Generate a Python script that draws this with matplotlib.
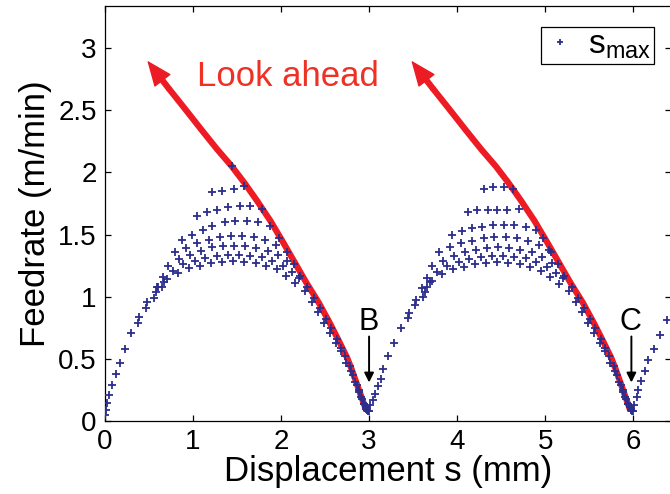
import matplotlib
matplotlib.use('Agg')
import matplotlib.pyplot as plt

# feedrate samples (s in mm, v in m/min)
# first segment 0..3 mm
rise1_s = [0.00, 0.01, 0.02, 0.045, 0.08, 0.125, 0.17, 0.23, 0.30, 0.38, 0.39, 0.47, 0.48, 0.56, 0.58, 0.59, 0.65, 0.67]
rise1_v = [0.05, 0.09, 0.145, 0.21, 0.29, 0.38, 0.47, 0.58, 0.71, 0.79, 0.84, 0.91, 0.96, 0.99, 1.04, 1.08, 1.08, 1.12]
top1_s = [1.44]
top1_v = [2.05]
r1_s = [1.22, 1.33, 1.46, 1.58]
r1_v = [1.84, 1.85, 1.87, 1.89]
r2_s = [1.04, 1.16, 1.27, 1.40, 1.53, 1.65, 1.78]
r2_v = [1.65, 1.68, 1.70, 1.72, 1.73, 1.73, 1.71]
r3_s = [0.87, 0.99, 1.11, 1.22, 1.36, 1.48, 1.61, 1.74, 1.87]
r3_v = [1.46, 1.50, 1.54, 1.57, 1.60, 1.61, 1.61, 1.60, 1.57]
r4_s = [0.80, 0.92, 1.05, 1.18, 1.31, 1.43, 1.56, 1.69, 1.82, 1.94]
r4_v = [1.36, 1.39, 1.43, 1.46, 1.48, 1.49, 1.49, 1.48, 1.46, 1.42]
r5_s = [0.72, 0.84, 0.96, 1.09, 1.21, 1.34, 1.47, 1.59, 1.72, 1.85, 1.97, 2.07]
r5_v = [1.25, 1.30, 1.34, 1.37, 1.40, 1.41, 1.41, 1.41, 1.39, 1.37, 1.34, 1.29]
r6_s = [0.66, 0.77, 0.89, 1.02, 1.14, 1.27, 1.40, 1.52, 1.65, 1.78, 1.90, 2.02, 2.12]
r6_v = [1.16, 1.21, 1.26, 1.29, 1.31, 1.33, 1.34, 1.34, 1.33, 1.32, 1.29, 1.25, 1.20]
r7_s = [0.60, 0.71, 0.83, 0.95, 1.08, 1.20, 1.33, 1.45, 1.58, 1.71, 1.83, 1.95, 2.06, 2.16]
r7_v = [1.08, 1.14, 1.19, 1.23, 1.25, 1.27, 1.28, 1.29, 1.28, 1.27, 1.25, 1.22, 1.17, 1.11]
desc1_s = [1.98, 2.07, 2.15, 2.22, 2.30, 2.37, 2.44, 2.51, 2.57, 2.63, 2.68, 2.73, 2.78, 2.82, 2.86, 2.89, 2.92, 2.94, 2.96, 2.98, 2.99, 3.00]
desc1_v = [1.47, 1.36, 1.26, 1.17, 1.08, 0.99, 0.91, 0.82, 0.75, 0.66, 0.59, 0.52, 0.44, 0.37, 0.29, 0.23, 0.18, 0.14, 0.11, 0.09, 0.08, 0.08]
desc1b_s = [2.20, 2.27, 2.35, 2.42, 2.49, 2.56, 2.62, 2.68, 2.74, 2.79, 2.84, 2.88, 2.91, 2.94, 2.96, 2.97]
desc1b_v = [1.15, 1.05, 0.96, 0.88, 0.79, 0.71, 0.63, 0.56, 0.47, 0.40, 0.31, 0.25, 0.19, 0.14, 0.12, 0.10]

# second segment 3..6 mm
rise2_s = [3.01, 3.04, 3.07, 3.10, 3.13, 3.16, 3.22, 3.28, 3.36, 3.44, 3.45, 3.52, 3.53, 3.61, 3.63, 3.66, 3.69]
rise2_v = [0.13, 0.17, 0.22, 0.28, 0.34, 0.42, 0.52, 0.63, 0.75, 0.83, 0.87, 0.93, 0.97, 1.00, 1.04, 1.08, 1.12]
q1_s = [4.30, 4.41, 4.53, 4.63]
q1_v = [1.87, 1.88, 1.88, 1.87]
q2_s = [4.12, 4.23, 4.35, 4.45, 4.57, 4.70]
q2_v = [1.68, 1.70, 1.70, 1.70, 1.70, 1.71]
q3_s = [3.94, 4.05, 4.17, 4.28, 4.41, 4.53, 4.65, 4.78, 4.90]
q3_v = [1.50, 1.53, 1.55, 1.56, 1.58, 1.58, 1.58, 1.56, 1.54]
q4_s = [3.80, 3.92, 4.04, 4.17, 4.30, 4.42, 4.55, 4.68, 4.81, 4.93, 5.04]
q4_v = [1.36, 1.40, 1.43, 1.45, 1.47, 1.48, 1.48, 1.47, 1.45, 1.42, 1.38]
q5_s = [3.72, 3.84, 3.96, 4.09, 4.21, 4.34, 4.47, 4.59, 4.72, 4.85, 4.97, 5.08]
q5_v = [1.25, 1.29, 1.33, 1.36, 1.38, 1.39, 1.40, 1.39, 1.38, 1.36, 1.32, 1.27]
q6_s = [3.66, 3.77, 3.89, 4.02, 4.14, 4.27, 4.40, 4.52, 4.65, 4.78, 4.90, 5.02, 5.12]
q6_v = [1.15, 1.20, 1.25, 1.28, 1.30, 1.32, 1.33, 1.33, 1.32, 1.31, 1.28, 1.24, 1.19]
q7_s = [3.60, 3.71, 3.83, 3.95, 4.08, 4.20, 4.33, 4.45, 4.58, 4.71, 4.83, 4.95, 5.06, 5.16]
q7_v = [1.07, 1.13, 1.18, 1.22, 1.24, 1.26, 1.27, 1.28, 1.27, 1.26, 1.24, 1.21, 1.16, 1.10]
desc2_s = [4.98, 5.07, 5.15, 5.22, 5.30, 5.37, 5.44, 5.51, 5.57, 5.63, 5.68, 5.73, 5.78, 5.82, 5.86, 5.89, 5.92, 5.94, 5.96, 5.98, 5.99, 6.00]
desc2_v = [1.47, 1.36, 1.26, 1.17, 1.08, 0.99, 0.91, 0.82, 0.75, 0.66, 0.59, 0.52, 0.44, 0.37, 0.29, 0.23, 0.18, 0.14, 0.11, 0.09, 0.08, 0.08]
desc2b_s = [5.20, 5.27, 5.35, 5.42, 5.49, 5.56, 5.62, 5.68, 5.74, 5.79, 5.84, 5.88, 5.91, 5.94, 5.96, 5.97]
desc2b_v = [1.15, 1.05, 0.96, 0.88, 0.79, 0.71, 0.63, 0.56, 0.47, 0.40, 0.31, 0.25, 0.19, 0.14, 0.12, 0.10]
rise3_s = [6.01, 6.04, 6.06, 6.09, 6.13, 6.17, 6.24, 6.31, 6.38]
rise3_v = [0.13, 0.195, 0.25, 0.32, 0.40, 0.49, 0.58, 0.69, 0.81]

# look-ahead (backward) curves, drawn from the stop point back to the arrow tip
red1_s = [2.97, 2.95, 2.90, 2.86, 2.80, 2.75, 2.66, 2.56, 2.43, 2.29, 2.16, 2.03, 1.88, 1.72, 1.58, 1.44, 1.27, 1.10, 0.90, 0.72]
red1_v = [0.08, 0.12, 0.22, 0.30, 0.42, 0.51, 0.64, 0.78, 0.95, 1.11, 1.27, 1.43, 1.61, 1.78, 1.92, 2.05, 2.19, 2.34, 2.52, 2.68]
red2_s = [5.97, 5.95, 5.90, 5.86, 5.80, 5.75, 5.66, 5.56, 5.43, 5.29, 5.16, 5.03, 4.88, 4.72, 4.58, 4.44, 4.27, 4.10, 3.90, 3.72]
red2_v = [0.08, 0.12, 0.22, 0.30, 0.42, 0.51, 0.64, 0.78, 0.95, 1.11, 1.27, 1.43, 1.61, 1.78, 1.92, 2.05, 2.19, 2.34, 2.52, 2.68]
tip1 = (0.48, 2.90)
tip2 = (3.48, 2.90)

blue = '#2b2e8c'
red = '#ed1c24'

plt.rcParams['font.family'] = ['Liberation Sans', 'DejaVu Sans']

fig = plt.figure(figsize=(6.7, 4.94), dpi=100)
ax = fig.add_axes([105 / 670, 73 / 494, 566 / 670, 415 / 494])

for rs, rv, tip in [(red1_s, red1_v, tip1), (red2_s, red2_v, tip2)]:
    ax.plot(rs, rv, color=red, lw=4.5, solid_capstyle='butt', solid_joinstyle='round', zorder=2)
    # thick shaft up to the head base, then a thin-edged filled head
    ax.annotate('', xy=tip, xytext=(rs[-1], rv[-1]),
                arrowprops=dict(arrowstyle='-', color=red, lw=4.5,
                                shrinkA=0, shrinkB=13), zorder=2)
    ax.annotate('', xy=tip, xytext=(rs[-1], rv[-1]),
                arrowprops=dict(arrowstyle='-|>,head_length=1.1,head_width=0.45',
                                color=red, lw=1, mutation_scale=15,
                                shrinkA=0, shrinkB=0), zorder=2)

all_s = (rise1_s + top1_s + r1_s + r2_s + r3_s + r4_s + r5_s + r6_s + r7_s + desc1_s + desc1b_s
         + rise2_s + q1_s + q2_s + q3_s + q4_s + q5_s + q6_s + q7_s + desc2_s + desc2b_s + rise3_s)
all_v = (rise1_v + top1_v + r1_v + r2_v + r3_v + r4_v + r5_v + r6_v + r7_v + desc1_v + desc1b_v
         + rise2_v + q1_v + q2_v + q3_v + q4_v + q5_v + q6_v + q7_v + desc2_v + desc2b_v + rise3_v)
ax.plot(all_s, all_v, '+', color=blue, ms=5.5, mew=1.3, linestyle='none', zorder=3,
        label=r'$\mathregular{s_{max}}$')

ax.text(1.04, 2.70, 'Look ahead', color='#ee3124', fontsize=25, ha='left', va='baseline')

for xs, lab in [(3.0, 'B'), (5.98, 'C')]:
    ax.annotate('', xy=(xs, 0.31), xytext=(xs, 0.68),
                arrowprops=dict(arrowstyle='-|>', color='black', lw=1.4,
                                mutation_scale=14, shrinkA=0, shrinkB=0))
    ax.text(xs - 0.01, 0.73, lab, fontsize=22, ha='center', va='baseline')

ax.set_xlim(0, 6.43)
ax.set_ylim(0, 3.34)
ax.set_xticks(range(7))
ax.set_yticks([0, 0.5, 1, 1.5, 2, 2.5, 3])
ax.set_yticklabels(['0', '0.5', '1', '1.5', '2', '2.5', '3'])
ax.tick_params(direction='in', top=True, right=True, length=4, width=0.9, labelsize=20, pad=6)
for sp in ax.spines.values():
    sp.set_linewidth(0.9)

ax.set_xlabel('Displacement s (mm)', fontsize=25, labelpad=0)
ax.set_ylabel('Feedrate (m/min)', fontsize=25, labelpad=4)

leg = ax.legend(loc='upper right', bbox_to_anchor=(0.970, 0.949), borderaxespad=0,
                fontsize=24, fancybox=False, edgecolor='black', framealpha=1,
                handlelength=1.0, handletextpad=0.35, borderpad=0.08, markerscale=0.9)
leg.get_frame().set_linewidth(0.9)

fig.savefig('out.png', dpi=100)
